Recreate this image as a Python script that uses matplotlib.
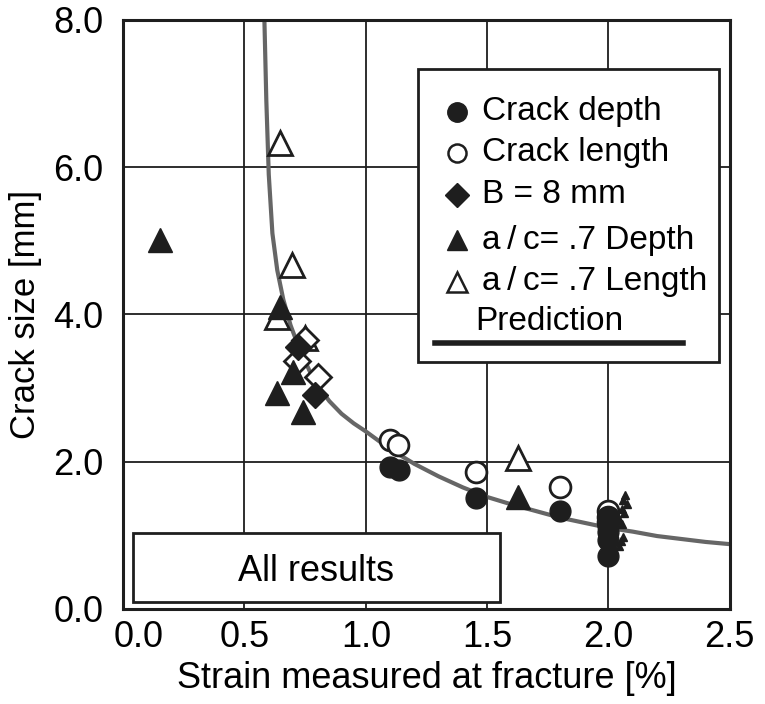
import matplotlib.pyplot as plt
import matplotlib.transforms as mtransforms
from matplotlib.patches import Rectangle

plt.rcParams['font.family'] = ['Liberation Sans', 'DejaVu Sans']

# crack depth (filled circles)
depth_x = [1.10, 1.136, 1.454, 1.80, 2.00, 2.00, 2.00, 2.00, 2.00]
depth_y = [1.93, 1.89, 1.51, 1.33, 1.25, 1.12, 1.05, 0.94, 0.72]

# crack length (open circles)
length_x = [1.10, 1.133, 1.454, 1.80, 2.00, 2.00, 2.00]
length_y = [2.30, 2.23, 1.86, 1.66, 1.33, 1.25, 1.18]

# B = 8 mm
b8_x = [0.72, 0.79]
b8_y = [3.56, 2.91]
b8_open_x = [0.75, 0.717, 0.803]
b8_open_y = [3.65, 3.36, 3.15]

# a/c = .7 depth (filled triangles)
ac_depth_x = [0.152, 0.647, 0.70, 0.634, 0.743, 1.627]
ac_depth_y = [5.01, 4.10, 3.22, 2.93, 2.68, 1.52]

# a/c = .7 length (open triangles)
ac_len_x = [0.647, 0.696, 0.634, 0.75, 1.627]
ac_len_y = [6.33, 4.67, 3.97, 3.68, 2.05]

# small overlapping points beside x = 2.0
small_x = [2.07, 2.06, 2.075, 2.055, 2.065, 2.045, 2.055, 2.06, 2.05, 2.045]
small_y = [1.55, 1.48, 1.42, 1.36, 1.30, 1.22, 1.15, 0.98, 0.92, 0.86]

# prediction curve
pred_x = [0.582, 0.590, 0.600, 0.615, 0.635, 0.660, 0.690, 0.730, 0.770, 0.800,
          0.850, 0.900, 0.950, 1.000, 1.100, 1.200, 1.300, 1.400, 1.500, 1.600,
          1.700, 1.800, 1.900, 2.000, 2.100, 2.200, 2.300, 2.400, 2.500]
pred_y = [8.0, 6.9, 5.9, 5.1, 4.6, 4.2, 3.85, 3.5, 3.22, 3.04,
          2.82, 2.65, 2.52, 2.41, 2.17, 1.97, 1.80, 1.65, 1.52, 1.42,
          1.33, 1.24, 1.17, 1.10, 1.05, 0.99, 0.95, 0.91, 0.88]

legend_labels = ['Crack depth', 'Crack length', 'B = 8 mm',
                 'a\u2009/\u2009c= .7 Depth', 'a\u2009/\u2009c= .7 Length']

fig = plt.figure(figsize=(7.65, 7.04), dpi=100)
ax = fig.add_axes([0.161, 0.135, 0.793, 0.837])

ink = '#1e1e1e'
ax.set_xlim(0, 2.5)
ax.set_ylim(0, 8)
ax.set_xticks([0, 0.5, 1.0, 1.5, 2.0, 2.5])
ax.set_xticklabels(['0.0', '0.5', '1.0', '1.5', '2.0', '2.5'], fontsize=26)
ax.set_yticks([0, 2, 4, 6, 8])
ax.set_yticklabels(['0.0', '2.0', '4.0', '6.0', '8.0'], fontsize=26)
ax.tick_params(axis='x', length=0, pad=8, colors='black')
ax.tick_params(axis='y', length=0, pad=14, colors='black')
ax.grid(True, color=ink, linewidth=1.3)
ax.set_axisbelow(True)
for s in ax.spines.values():
    s.set_linewidth(2.2)
    s.set_color(ink)

# first x label sits a bit to the right in the original
first = ax.get_xticklabels()[0]
first.set_transform(first.get_transform() +
                    mtransforms.ScaledTranslation(15 / 100, 0, fig.dpi_scale_trans))

ax.set_xlabel('Strain measured at fracture [%]', fontsize=26, labelpad=4)
ax.set_ylabel('Crack size [mm]', fontsize=25, labelpad=8)

ax.plot(pred_x, pred_y, color='#666666', linewidth=3, zorder=2)

ms = 15
ax.plot(ac_len_x, ac_len_y, '^', ms=17, mfc='white', mec=ink, mew=2, ls='none', zorder=3)
ax.plot(b8_open_x, b8_open_y, 'D', ms=13, mfc='white', mec=ink, mew=2, ls='none', zorder=3)
ax.plot(length_x, length_y, 'o', ms=ms, mfc='white', mec=ink, mew=2, ls='none', zorder=3)
ax.plot(ac_depth_x, ac_depth_y, '^', ms=17, color=ink, ls='none', zorder=4)
ax.plot(b8_x, b8_y, 'D', ms=13, color=ink, ls='none', zorder=4)
ax.plot(depth_x, depth_y, 'o', ms=ms, color=ink, ls='none', zorder=4)
ax.plot(small_x, small_y, '^', ms=6, color=ink, ls='none', zorder=4)

# legend drawn by hand
ax.add_patch(Rectangle((0.486, 0.419), 0.496, 0.498, transform=ax.transAxes,
                       facecolor='white', edgecolor=ink, linewidth=2, zorder=5))
styles = [dict(marker='o', mfc=ink, mec=ink, ms=14),
          dict(marker='o', mfc='white', mec=ink, ms=13, mew=1.8),
          dict(marker='D', mfc=ink, mec=ink, ms=12),
          dict(marker='^', mfc=ink, mec=ink, ms=15),
          dict(marker='^', mfc='white', mec=ink, ms=15, mew=1.8)]
rows = [0.844, 0.774, 0.703, 0.626, 0.555]
for lab, st, yy in zip(legend_labels, styles, rows):
    ax.plot([0.550], [yy], transform=ax.transAxes, ls='none', zorder=6,
            clip_on=False, **st)
    ax.text(0.591, yy, lab, transform=ax.transAxes, fontsize=24,
            va='center', ha='left', zorder=6)
ax.text(0.580, 0.487, 'Prediction', transform=ax.transAxes, fontsize=24,
        va='center', ha='left', zorder=6)
ax.plot([0.514, 0.923], [0.452, 0.452], transform=ax.transAxes, color=ink,
        linewidth=4, zorder=6)

# "All results" box
ax.add_patch(Rectangle((0.016, 0.012), 0.605, 0.117, transform=ax.transAxes,
                       facecolor='white', edgecolor=ink, linewidth=2, zorder=5))
ax.text(0.318, 0.063, 'All results', transform=ax.transAxes, fontsize=26,
        va='center', ha='center', zorder=6)

fig.savefig('out.png', dpi=100)
